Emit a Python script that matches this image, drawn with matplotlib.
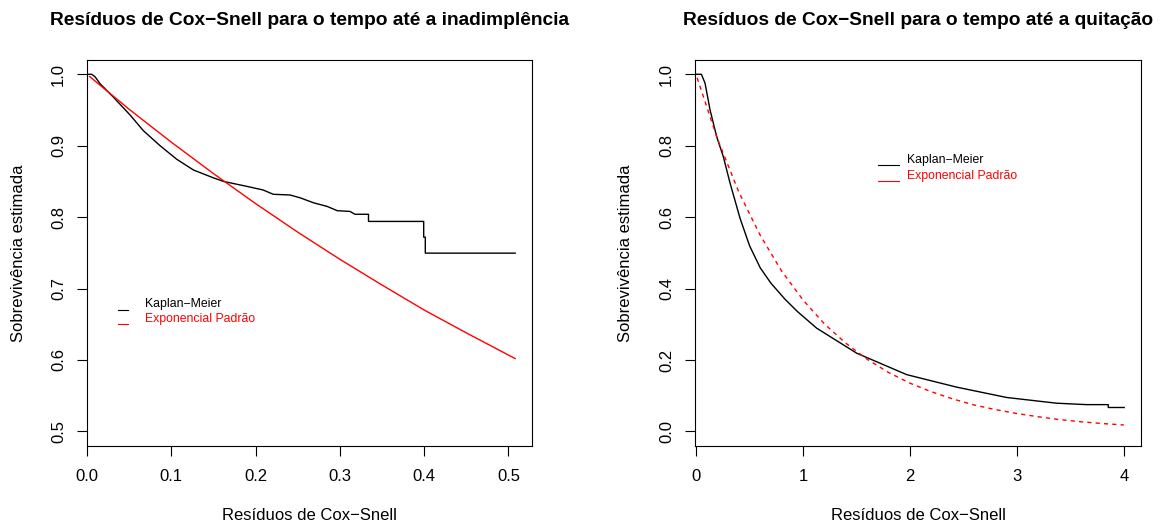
import matplotlib
matplotlib.use("Agg")
import matplotlib.pyplot as plt

plt.rcParams['font.family'] = ['Liberation Sans', 'DejaVu Sans']

# painel 1: tempo até a inadimplência
km1_x = [0.0, 0.0056, 0.0095, 0.0154, 0.0313, 0.0511, 0.0669, 0.0867, 0.1065,
         0.1263, 0.150, 0.162, 0.190, 0.209, 0.221, 0.241, 0.253, 0.269, 0.285,
         0.297, 0.312, 0.318, 0.334, 0.334, 0.3995, 0.3995, 0.4014, 0.4014, 0.508]
km1_y = [1.0, 1.0, 0.9966, 0.987, 0.968, 0.943, 0.921, 0.900, 0.881,
         0.866, 0.855, 0.850, 0.843, 0.838, 0.832, 0.831, 0.827, 0.820, 0.815,
         0.809, 0.808, 0.804, 0.804, 0.794, 0.794, 0.772, 0.772, 0.7496, 0.7496]
exp1_x = [0.003, 0.05, 0.10, 0.15, 0.20, 0.25, 0.30, 0.35, 0.40, 0.45, 0.508]
exp1_y = [0.997, 0.951, 0.905, 0.861, 0.819, 0.779, 0.741, 0.705, 0.670, 0.638, 0.602]

# painel 2: tempo até a quitação
km2_x = [0.0, 0.05, 0.084, 0.131, 0.193, 0.255, 0.318, 0.411, 0.50, 0.60, 0.70,
         0.832, 0.95, 1.128, 1.502, 1.969, 2.436, 2.904, 3.371, 3.651, 3.854,
         3.854, 4.003]
km2_y = [1.0, 1.0, 0.975, 0.900, 0.825, 0.769, 0.695, 0.597, 0.520, 0.458, 0.415,
         0.370, 0.335, 0.289, 0.219, 0.159, 0.124, 0.095, 0.079, 0.075, 0.075,
         0.067, 0.067]
exp2_x = [0.01, 0.2, 0.4, 0.6, 0.8, 1.0, 1.2, 1.4, 1.6, 1.8, 2.0, 2.2, 2.4, 2.6,
          2.8, 3.0, 3.2, 3.4, 3.6, 3.8, 4.0]
exp2_y = [0.990, 0.819, 0.670, 0.549, 0.449, 0.368, 0.301, 0.247, 0.202, 0.165,
          0.135, 0.111, 0.091, 0.074, 0.061, 0.050, 0.041, 0.033, 0.027, 0.022, 0.018]

titles = ["Resíduos de Cox−Snell para o tempo até a inadimplência",
          "Resíduos de Cox−Snell para o tempo até a quitação"]
leg_labels = ["Kaplan−Meier", "Exponencial Padrão"]

fig = plt.figure(figsize=(11.61, 5.23), dpi=100)
ax1 = fig.add_axes([87 / 1161, 1 - 445.7 / 523, 445 / 1161, 385.7 / 523])
ax2 = fig.add_axes([695 / 1161, 1 - 445.7 / 523, 446 / 1161, 385.7 / 523])

ax1.plot(km1_x, km1_y, color='black', lw=1.0)
ax1.plot(exp1_x, exp1_y, color='red', lw=1.0)
ax1.set_xlim(0, 0.528)
ax1.set_ylim(0.48, 1.02)
ax1.set_xticks([0.0, 0.1, 0.2, 0.3, 0.4, 0.5])
ax1.set_xticklabels(["0.0", "0.1", "0.2", "0.3", "0.4", "0.5"])
ax1.set_yticks([0.5, 0.6, 0.7, 0.8, 0.9, 1.0])
ax1.set_yticklabels(["0.5", "0.6", "0.7", "0.8", "0.9", "1.0"])

ax2.plot(km2_x, km2_y, color='black', lw=1.0)
ax2.plot(exp2_x, exp2_y, color='red', lw=1.0, dashes=(3, 3))
ax2.set_xlim(-0.01, 4.16)
ax2.set_ylim(-0.04, 1.04)
ax2.set_xticks([0, 1, 2, 3, 4])
ax2.set_xticklabels(["0", "1", "2", "3", "4"])
ax2.set_yticks([0.0, 0.2, 0.4, 0.6, 0.8, 1.0])
ax2.set_yticklabels(["0.0", "0.2", "0.4", "0.6", "0.8", "1.0"])

leg_pos = [(0.069, 0.093, 0.130, 0.367, 0.3285), (0.41, 0.457, 0.475, 0.741, 0.700)]

for ax, title, (s0, s1, tx, y1, y2) in zip([ax1, ax2], titles, leg_pos):
    ax.set_title(title, fontsize=13.8, fontweight='bold', pad=25)
    ax.set_xlabel("Resíduos de Cox−Snell", fontsize=12)
    ax.set_ylabel("Sobrevivência estimada", fontsize=12)
    ax.xaxis.set_label_coords(0.5, -0.18)
    ax.xaxis.label.set_va('center')
    ax.yaxis.set_label_coords(-0.155, 0.5)
    ax.yaxis.label.set_va('center')
    ax.tick_params(direction='out', length=7, width=0.8, labelsize=12)
    ax.tick_params(axis='x', pad=10)
    ax.tick_params(axis='y', pad=8)
    for lab in ax.get_yticklabels():
        lab.set_rotation(90)
        lab.set_va('center')
    for sp in ax.spines.values():
        sp.set_linewidth(0.8)
    # legenda desenhada à mão, linhas abaixo do texto
    for yy, lab, col in [(y1, leg_labels[0], 'black'), (y2, leg_labels[1], 'red')]:
        ax.plot([s0, s1], [yy - 0.014, yy - 0.014], transform=ax.transAxes,
                color=col, lw=0.8, clip_on=False)
        ax.text(tx, yy, lab, transform=ax.transAxes, color=col, fontsize=8.8,
                va='center', ha='left')

fig.savefig("out.png", dpi=100)
